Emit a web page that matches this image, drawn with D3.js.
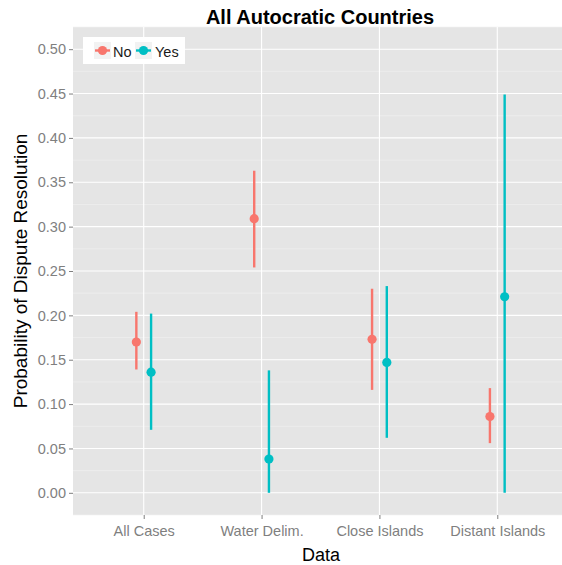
<!DOCTYPE html>
<html>
<head>
<meta charset="utf-8">
<script src="https://cdn.jsdelivr.net/npm/d3@7"></script>
<style>
  html, body { margin: 0; padding: 0; background: #fff; }
  svg { display: block; font-family: "Liberation Sans", Arial, sans-serif; }
</style>
</head>
<body>
<svg id="chart" width="562" height="565"></svg>
<script>
// Categories and groups
const categories = ["All Cases", "Water Delim.", "Close Islands", "Distant Islands"];
const groups = ["No", "Yes"];
const colors = ["#F8766D", "#00BFC4"];

// Point estimates and interval bounds, per group, in category order
const estNo   = [0.170, 0.309, 0.173, 0.086];
const lowNo   = [0.139, 0.254, 0.116, 0.056];
const highNo  = [0.204, 0.363, 0.230, 0.118];
const estYes  = [0.136, 0.038, 0.147, 0.221];
const lowYes  = [0.071, 0.000, 0.062, 0.000];
const highYes = [0.202, 0.138, 0.233, 0.449];

const yTicks = [0, 0.05, 0.10, 0.15, 0.20, 0.25, 0.30, 0.35, 0.40, 0.45, 0.50];
const yMinor = [-0.025, 0.025, 0.075, 0.125, 0.175, 0.225, 0.275, 0.325, 0.375, 0.425, 0.475, 0.525];

const rows = [];
categories.forEach((c, i) => {
  rows.push({cat: c, grp: "No",  est: estNo[i],  lo: lowNo[i],  hi: highNo[i]});
  rows.push({cat: c, grp: "Yes", est: estYes[i], lo: lowYes[i], hi: highYes[i]});
});

const svg = d3.select("#chart");
const panel = {left: 73, right: 568, top: 27, bottom: 515};

const x = d3.scalePoint().domain(categories)
  .range([panel.left, panel.right]).padding(0.6);
const y = d3.scaleLinear().domain([-0.025, 0.525]).range([panel.bottom, panel.top]);
const color = d3.scaleOrdinal().domain(groups).range(colors);
const dodge = g => (g === "No" ? -1 : 1) * x.step() * 0.0625;

// Panel background
svg.append("rect")
  .attr("x", panel.left).attr("y", panel.top)
  .attr("width", panel.right - panel.left).attr("height", panel.bottom - panel.top)
  .attr("fill", "#E5E5E5");

// Grid lines
const grid = svg.append("g");
grid.selectAll("line.minor").data(yMinor).join("line")
  .attr("x1", panel.left).attr("x2", panel.right)
  .attr("y1", d => y(d)).attr("y2", d => y(d))
  .attr("stroke", "#F2F2F2").attr("stroke-width", 0.6);
grid.selectAll("line.majorY").data(yTicks).join("line")
  .attr("x1", panel.left).attr("x2", panel.right)
  .attr("y1", d => y(d)).attr("y2", d => y(d))
  .attr("stroke", "#FFFFFF").attr("stroke-width", 1.1);
grid.selectAll("line.majorX").data(categories).join("line")
  .attr("x1", d => x(d)).attr("x2", d => x(d))
  .attr("y1", panel.top).attr("y2", panel.bottom)
  .attr("stroke", "#FFFFFF").attr("stroke-width", 1.1);

// Axes
const yAxis = d3.axisLeft(y).tickValues(yTicks).tickFormat(d3.format(".2f"))
  .tickSize(4).tickPadding(3);
const gy = svg.append("g").attr("transform", `translate(${panel.left},0)`).call(yAxis);
gy.select(".domain").remove();
gy.selectAll(".tick line").attr("stroke", "#7F7F7F");
gy.selectAll(".tick text").attr("fill", "#7F7F7F").style("font-size", "14.5px");

const xAxis = d3.axisBottom(x).tickSize(4).tickPadding(4);
const gx = svg.append("g").attr("transform", `translate(0,${panel.bottom})`).call(xAxis);
gx.select(".domain").remove();
gx.selectAll(".tick line").attr("stroke", "#7F7F7F");
gx.selectAll(".tick text").attr("fill", "#7F7F7F").style("font-size", "14.5px")
  .attr("dy", "0.9em");

// Error bars and points
const marks = svg.append("g");
marks.selectAll("line.err").data(rows).join("line")
  .attr("x1", d => x(d.cat) + dodge(d.grp)).attr("x2", d => x(d.cat) + dodge(d.grp))
  .attr("y1", d => y(d.lo)).attr("y2", d => y(d.hi))
  .attr("stroke", d => color(d.grp)).attr("stroke-width", 2.4);
marks.selectAll("circle").data(rows).join("circle")
  .attr("cx", d => x(d.cat) + dodge(d.grp)).attr("cy", d => y(d.est))
  .attr("r", 4.6).attr("fill", d => color(d.grp));

// Titles
svg.append("text").attr("x", 320).attr("y", 24)
  .attr("text-anchor", "middle").style("font-size", "20px").style("font-weight", "bold")
  .text("All Autocratic Countries");
svg.append("text").attr("x", 321).attr("y", 561)
  .attr("text-anchor", "middle").style("font-size", "18px")
  .text("Data");
svg.append("text").attr("transform", `translate(27,${(panel.top + panel.bottom) / 2}) rotate(-90)`)
  .attr("text-anchor", "middle").style("font-size", "19px")
  .text("Probability of Dispute Resolution");

// Legend
const lg = svg.append("g").attr("transform", "translate(83,37)");
lg.append("rect").attr("width", 102).attr("height", 27).attr("fill", "#fff");
const keyX = [11, 52];
const labX = [30, 72];
groups.forEach((g, i) => {
  lg.append("rect").attr("x", keyX[i]).attr("y", 5).attr("width", 17).attr("height", 17)
    .attr("fill", "#F2F2F2");
  lg.append("line").attr("x1", keyX[i] + 1).attr("x2", keyX[i] + 16)
    .attr("y1", 13.5).attr("y2", 13.5).attr("stroke", colors[i]).attr("stroke-width", 2.4);
  lg.append("circle").attr("cx", keyX[i] + 8.5).attr("cy", 13.5).attr("r", 4.6)
    .attr("fill", colors[i]);
  lg.append("text").attr("x", labX[i]).attr("y", 19.5).style("font-size", "14.5px")
    .attr("fill", "#1a1a1a").text(g);
});
</script>
</body>
</html>
